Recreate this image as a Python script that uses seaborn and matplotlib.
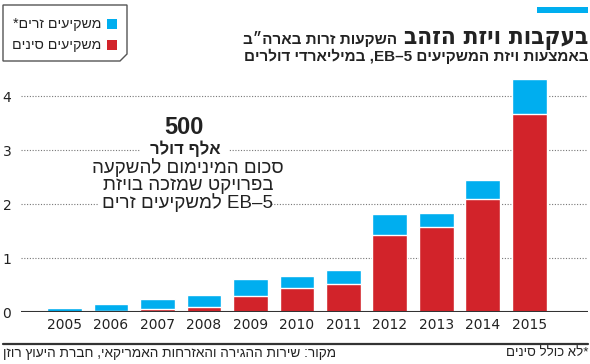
import re
import numpy as np
import pandas as pd
import matplotlib
matplotlib.use("Agg")
import matplotlib.pyplot as plt
import seaborn as sns
from matplotlib.patches import Polygon, Rectangle
from matplotlib.lines import Line2D

# data (billion USD, EB-5 investments)
years = ['2005', '2006', '2007', '2008', '2009', '2010', '2011', '2012', '2013', '2014', '2015']
chinese = [0.0, 0.02, 0.05, 0.10, 0.29, 0.45, 0.51, 1.43, 1.57, 2.09, 3.66]
foreign = [0.07, 0.13, 0.19, 0.21, 0.33, 0.22, 0.27, 0.38, 0.27, 0.35, 0.66]

BLUE = '#00aeef'
RED = '#d2232a'
HEB = ['Liberation Sans', 'DejaVu Sans']


def rtl(s):
    # matplotlib has no bidi: put hebrew text into visual order
    out = []
    for tok in s.split(' ')[::-1]:
        if re.search('[\u0590-\u05ff]', tok):
            out.append(tok[::-1])
        else:
            m = re.match(r'^(.*?)([,.]*)$', tok)
            out.append(m.group(2) + m.group(1))
    return ' '.join(out)


W, H = 590, 364


def fx(px):
    return px / W


def fy(py):
    return 1 - py / H


df = pd.DataFrame({'year': years, 'chinese': chinese, 'foreign': foreign})
df['total'] = df['chinese'] + df['foreign']

sns.set_style('white')
plt.rcParams['font.family'] = ['DejaVu Sans']

fig = plt.figure(figsize=(W / 100, H / 100), dpi=100)
ax = fig.add_axes([fx(21), 52 / H, 567 / W, 243 / H])

sns.barplot(data=df, x='year', y='total', color=BLUE, saturation=1, width=0.75, ax=ax, zorder=2)
sns.barplot(data=df, x='year', y='chinese', color=RED, saturation=1, width=0.75, ax=ax, zorder=2)

ax.set_xlim(-0.935, 11.26)
ax.set_ylim(0, 4.5)
ax.set_yticks([0, 1, 2, 3, 4])
ax.yaxis.grid(True, linestyle=(0, (1, 1.5)), color='#777777', lw=0.8)
ax.set_axisbelow(True)
ax.axhline(0, color='#333333', lw=1.5, zorder=3)
sns.despine(ax=ax, left=True, bottom=True)
ax.set_xlabel('')
ax.set_ylabel('')
ax.tick_params(axis='y', length=0, pad=7, labelsize=10, labelcolor='#222222')
ax.tick_params(axis='x', length=0, pad=4, labelsize=10, labelcolor='#222222')

# title block
fig.add_artist(Rectangle((fx(537), fy(13)), 51 / W, 6 / H, transform=fig.transFigure,
                         color=BLUE, lw=0))
fig.text(fx(588), fy(44), rtl('בעקבות ויזת הזהב'), ha='right', va='baseline',
         fontsize=17.5, fontweight='bold', family=['DejaVu Sans'], fontstretch='condensed',
         color='#222222')
fig.text(fx(397), fy(44), rtl('השקעות זרות בארה״ב'), ha='right', va='baseline',
         fontsize=11, fontweight='bold', family=HEB, color='#222222')
fig.text(fx(588), fy(61), rtl('באמצעות ויזת המשקיעים EB–5, במיליארדי דולרים'), ha='right',
         va='baseline', fontsize=11, fontweight='bold', family=HEB, color='#222222')

# legend box with folded corner
corners = [(3, 5), (127, 5), (127, 54), (120, 61), (3, 61)]
fig.add_artist(Polygon([(fx(x), fy(y)) for x, y in corners], closed=True,
                       transform=fig.transFigure, facecolor='white',
                       edgecolor='#555555', lw=1))
for yc, col, lab in [(24, BLUE, 'משקיעים זרים*'), (45, RED, 'משקיעים סינים')]:
    fig.add_artist(Rectangle((fx(107), fy(yc + 5)), 10 / W, 10 / H,
                             transform=fig.transFigure, color=col, lw=0))
    fig.text(fx(101), fy(yc), rtl(lab), ha='right', va='center', fontsize=10.2,
             family=HEB, color='#222222')

# annotation: white strips break the gridlines behind the text
for x0, x1, yg in [(140, 229, 150), (98, 270, 204)]:
    fig.add_artist(Rectangle((fx(x0), fy(yg + 3)), (x1 - x0) / W, 6 / H,
                             transform=fig.transFigure, color='white', lw=0, zorder=1))
fig.text(fx(184), fy(127), '500', ha='center', va='center', fontsize=17,
         fontweight='bold', family=HEB, color='#222222', zorder=4)
fig.text(fx(185), fy(149), rtl('אלף דולר'), ha='center', va='center', fontsize=12,
         fontweight='bold', family=HEB, color='#222222', zorder=4)
for yc, line in [(168, 'סכום המינימום להשקעה'), (186, 'בפרויקט שמזכה בויזת'),
                 (203, 'EB–5 למשקיעים זרים')]:
    fig.text(fx(188), fy(yc), rtl(line), ha='center', va='center', fontsize=13.5,
             family=HEB, color='#222222', zorder=4)

# footer
fig.add_artist(Line2D([fx(3), fx(588)], [fy(344), fy(344)], transform=fig.transFigure,
                      color='#333333', lw=1.6))
fig.text(fx(3), fy(353), rtl('מקור: שירות ההגירה והאזרחות האמריקאי, חברת היעוץ רוזן'),
         ha='left', va='center', fontsize=9.8, family=HEB, color='#222222')
fig.text(fx(588), fy(353), rtl('*לא כולל סינים'), ha='right', va='center', fontsize=9.5,
         family=HEB, color='#222222')

fig.savefig('out.png', dpi=100)
